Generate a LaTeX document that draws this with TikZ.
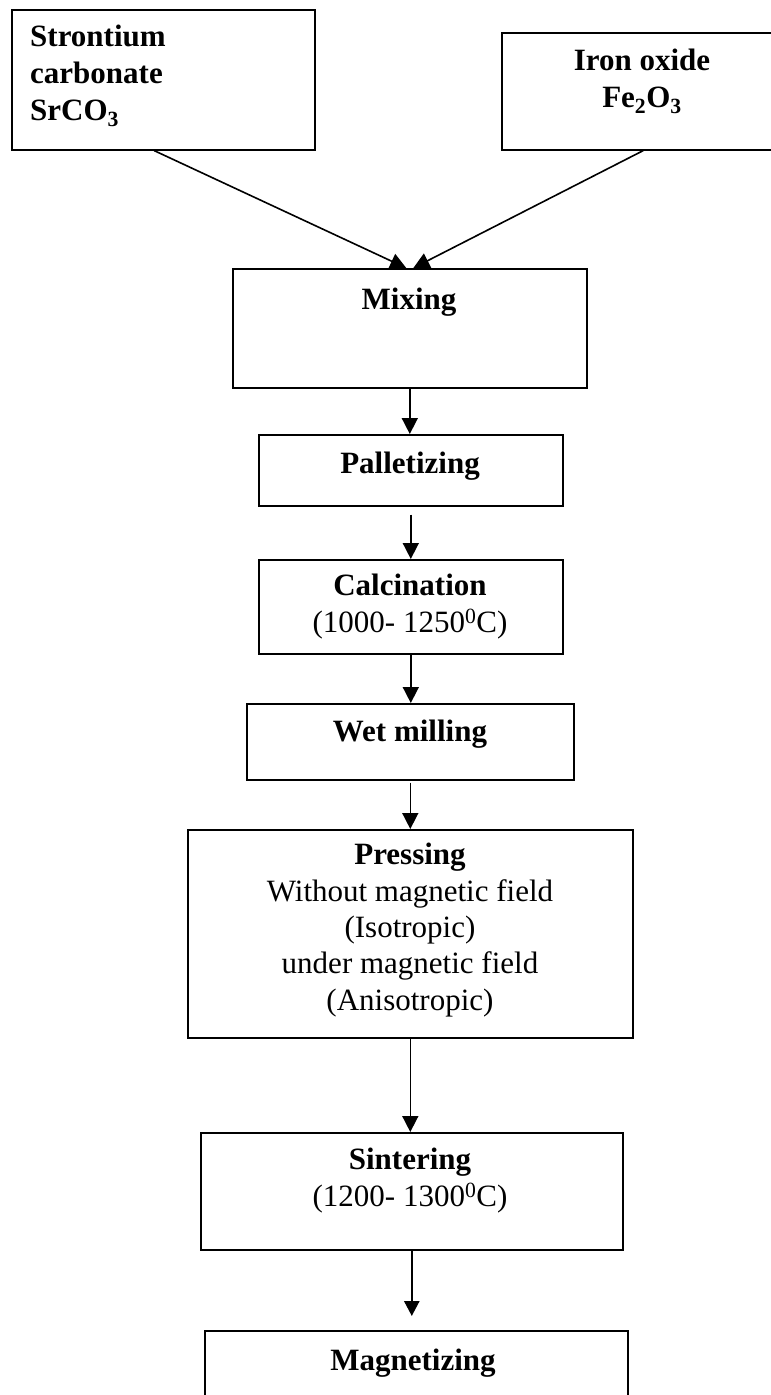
\documentclass[tikz,border=0pt]{standalone}
\usepackage{fontspec}
\setmainfont{Liberation Serif}
\usetikzlibrary{arrows.meta,calc}
\begin{document}
\begin{tikzpicture}[x=1pt,y=-1pt,
  box/.style={draw,line width=1.6pt,rectangle,inner sep=0pt,anchor=north west},
  lbl/.style={align=center,font=\fontsize{31}{37}\selectfont,inner sep=0pt},
  flow/.style={line width=1.6pt,-{Triangle[width=16pt,length=16pt]}},
  boldflow/.style={line width=2.6pt,-{Triangle[width=15pt,length=15pt]}},
]
\useasboundingbox (0,0) rectangle (771,1395);
\fill[white] (0,0) rectangle (771,1395);

% raw materials
\node[box,minimum width=303pt,minimum height=140pt] (src1) at (11,9) {};
\node[lbl,align=left,anchor=west] (t1) at (30,76) {\bfseries Strontium\\\bfseries carbonate\\\bfseries SrCO\textsubscript{3}};
\node[box,minimum width=280pt,minimum height=117pt] (src2) at (501,32) {};
\node[lbl] (t2) at (642,81) {\bfseries Iron oxide\\\bfseries Fe\textsubscript{2}O\textsubscript{3}};

% process steps
\node[box,minimum width=354pt,minimum height=119pt] (mix) at (232,268) {};
\node[lbl] (t3) at (409,302) {\bfseries Mixing};

\node[box,minimum width=304pt,minimum height=71pt] (pal) at (258,434) {};
\node[lbl] (t4) at (410,466) {\bfseries Palletizing};

\node[box,minimum width=304pt,minimum height=94pt] (calc) at (258,559) {};
\node[lbl] (t5) at (410,607) {\bfseries Calcination\\(1000- 1250\textsuperscript{0}C)};

\node[box,minimum width=327pt,minimum height=76pt] (wet) at (246,703) {};
\node[lbl] (t6) at (410,734) {\bfseries Wet milling};

\node[box,minimum width=445pt,minimum height=208pt] (press) at (187,829) {};
\node[lbl,font=\fontsize{31}{36.3}\selectfont] (t7) at (410,930) {\bfseries Pressing\\Without magnetic field\\(Isotropic)\\under magnetic field\\(Anisotropic)};

\node[box,minimum width=422pt,minimum height=117pt] (sint) at (200,1132) {};
\node[lbl] (t8) at (410,1181) {\bfseries Sintering\\(1200- 1300\textsuperscript{0}C)};

\node[box,minimum width=423pt,minimum height=110pt] (mag) at (204,1330) {};
\node[lbl] (t9) at (413,1363) {\bfseries Magnetizing};

% connectors
\draw[flow] ($(src1.south west)!0.47!(src1.south east)$) -- ($(mix.north west)!0.49!(mix.north east)$);
\draw[flow] ($(src2.south west)!0.505!(src2.south east)$) -- ($(mix.north west)!0.51!(mix.north east)$);
\draw[flow] (mix.south) -- (mix.south |- pal.north);
\draw[flow,shorten <=8pt] (pal.south) -- (pal.south |- calc.north);
\draw[flow] (calc.south) -- (calc.south |- wet.north);
\draw[flow,shorten <=2pt] (wet.south) -- (wet.south |- press.north);
\draw[flow] (press.south) -- (press.south |- sint.north);
\draw[boldflow,shorten >=14pt] (sint.south) -- (sint.south |- mag.north);
\end{tikzpicture}
\end{document}
